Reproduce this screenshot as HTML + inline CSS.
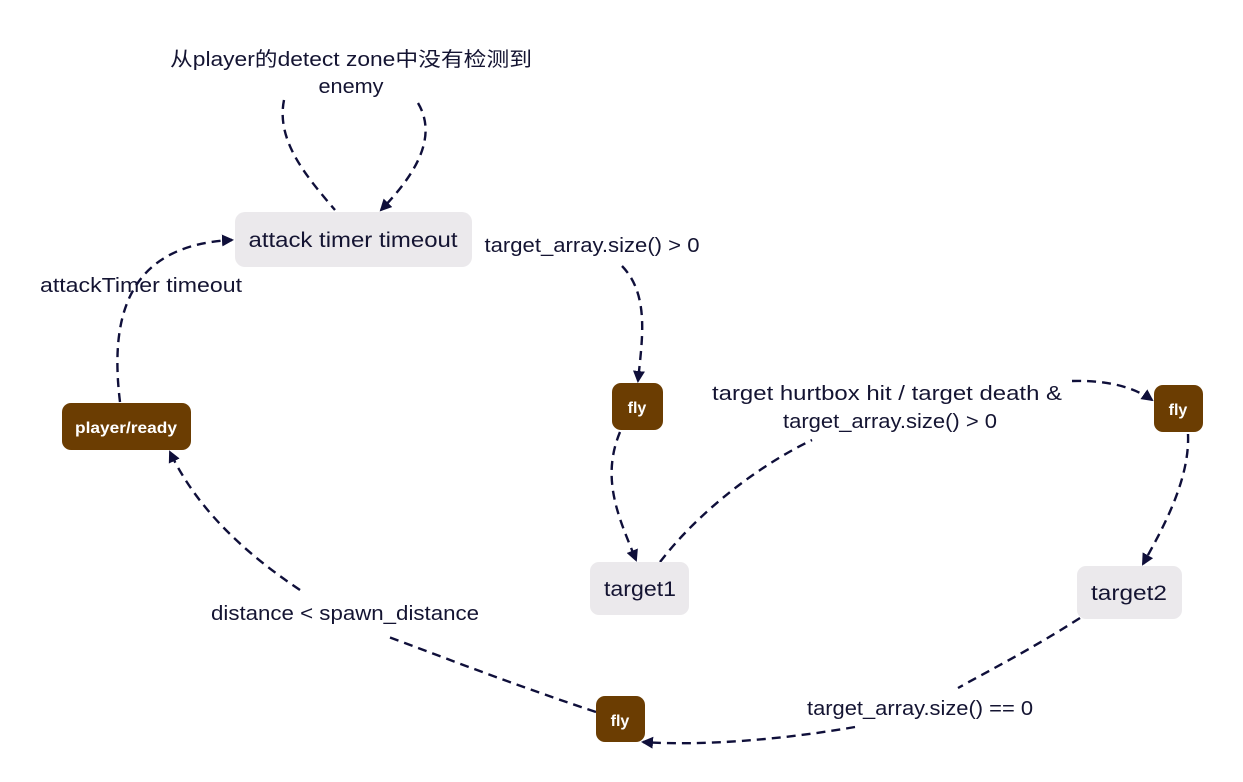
<!DOCTYPE html>
<html><head><meta charset="utf-8"><style>
html,body{margin:0;padding:0;background:#fff}
svg{display:block}
text{font-family:"Liberation Sans","Noto Sans CJK SC",sans-serif;fill:#141432}
</style></head><body>
<svg width="1243" height="782" viewBox="0 0 1243 782" xmlns="http://www.w3.org/2000/svg">
<defs>
<marker id="a" markerWidth="12" markerHeight="12" refX="10" refY="6" orient="auto" markerUnits="userSpaceOnUse">
<path d="M0,0 L12,6 L0,12 z" fill="#0f0f3a"/></marker>
</defs>
<g fill="none" stroke="#0f0f3a" stroke-width="2.4" stroke-dasharray="9,6">
<path d="M284,100 C276,140 305,175 335,210"/>
<path d="M418,103 C440,140 410,180 381,210" marker-end="url(#a)"/>
<path d="M120,402 C110,320 125,245 232,240" marker-end="url(#a)"/>
<path d="M622,266 C650,295 642,340 638,381" marker-end="url(#a)"/>
<path d="M620,432 C600,480 620,520 636,560" marker-end="url(#a)"/>
<path d="M660,562 C700,510 760,465 812,440"/>
<path d="M1072,381 C1110,380 1135,388 1152,400" marker-end="url(#a)"/>
<path d="M1188,434 C1190,480 1162,530 1143,564" marker-end="url(#a)"/>
<path d="M1080,618 C1030,650 990,670 958,688"/>
<path d="M855,727 C780,740 700,746 643,742" marker-end="url(#a)"/>
<path d="M596,712 C500,680 430,652 386,636"/>
<path d="M300,590 C240,550 195,505 170,452" marker-end="url(#a)"/>
</g>
<rect x="235" y="212" width="237" height="55" rx="10" fill="#ebe9ec"/>
<text x="353" y="247" font-size="21" text-anchor="middle" textLength="209" lengthAdjust="spacingAndGlyphs">attack timer timeout</text>
<rect x="590" y="562" width="99" height="53" rx="9" fill="#ebe9ec"/>
<text x="640" y="596" font-size="21" text-anchor="middle" textLength="72" lengthAdjust="spacingAndGlyphs">target1</text>
<rect x="1077" y="566" width="105" height="53" rx="9" fill="#ebe9ec"/>
<text x="1129" y="600" font-size="21" text-anchor="middle" textLength="76" lengthAdjust="spacingAndGlyphs">target2</text>
<g fill="#6b3d02">
<rect x="62" y="403" width="129" height="47" rx="9"/>
<rect x="612" y="383" width="51" height="47" rx="9"/>
<rect x="1154" y="385" width="49" height="47" rx="9"/>
<rect x="596" y="696" width="49" height="46" rx="9"/>
</g>
<g font-size="16" font-weight="bold" text-anchor="middle">
<text x="126" y="433" style="fill:#fff" textLength="102" lengthAdjust="spacingAndGlyphs">player/ready</text>
<text x="637" y="413" style="fill:#fff">fly</text>
<text x="1178" y="415" style="fill:#fff">fly</text>
<text x="620" y="726" style="fill:#fff">fly</text>
</g>
<g font-size="20" text-anchor="middle" lengthAdjust="spacingAndGlyphs">
<text x="351" y="66" textLength="362" lengthAdjust="spacingAndGlyphs">从player的detect zone中没有检测到</text>
<text x="351" y="93" textLength="65" lengthAdjust="spacingAndGlyphs">enemy</text>
<text x="141" y="292" textLength="202" lengthAdjust="spacingAndGlyphs">attackTimer timeout</text>
<text x="592" y="252" textLength="215" lengthAdjust="spacingAndGlyphs">target_array.size() &gt; 0</text>
<text x="887" y="400" textLength="350" lengthAdjust="spacingAndGlyphs">target hurtbox hit / target death  &amp;</text>
<text x="890" y="428" textLength="214" lengthAdjust="spacingAndGlyphs">target_array.size() &gt; 0</text>
<text x="345" y="620" textLength="268" lengthAdjust="spacingAndGlyphs">distance &lt; spawn_distance</text>
<text x="920" y="715" textLength="226" lengthAdjust="spacingAndGlyphs">target_array.size() == 0</text>
</g>
</svg>
</body></html>
